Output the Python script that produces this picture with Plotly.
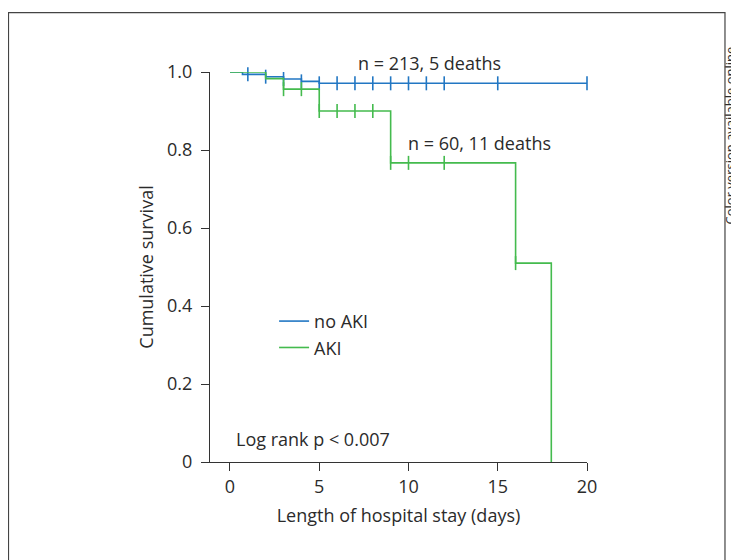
import plotly.graph_objects as go

# Kaplan-Meier step data
no_aki_time = [0, 0.7, 2, 3, 4, 5, 20]
no_aki_surv = [1.0, 0.994, 0.988, 0.982, 0.976, 0.971, 0.971]
no_aki_cens_time = [1, 2, 3, 4, 5, 6, 7, 8, 9, 10, 11, 12, 15, 20]
no_aki_cens_surv = [0.994, 0.988, 0.982, 0.976, 0.971, 0.971, 0.971, 0.971, 0.971,
                    0.971, 0.971, 0.971, 0.971, 0.971]

aki_time = [0, 2, 3, 5, 9, 16, 18]
aki_surv = [1.0, 0.983, 0.956, 0.90, 0.767, 0.51, 0.0]
aki_cens_time = [3, 4, 5, 6, 7, 8, 9, 10, 12, 16]
aki_cens_surv = [0.956, 0.956, 0.90, 0.90, 0.90, 0.90, 0.767, 0.767, 0.767, 0.51]

x_ticks = [0, 5, 10, 15, 20]
y_ticks = [0, 0.2, 0.4, 0.6, 0.8, 1.0]
y_tick_text = ["0", "0.2", "0.4", "0.6", "0.8", "1.0"]

BLUE = "#2277c3"
GREEN = "#44bb4e"
FONT = "Open Sans"
TXT = "#2b2b2b"
FS = 18

fig = go.Figure()
fig.add_trace(go.Scatter(x=no_aki_time, y=no_aki_surv, mode="lines", line_shape="hv",
                         line=dict(color=BLUE, width=1.6), name="no AKI", cliponaxis=False))
fig.add_trace(go.Scatter(x=no_aki_cens_time, y=no_aki_cens_surv, mode="markers",
                         marker=dict(symbol="line-ns", size=10, line=dict(color=BLUE, width=1.6)),
                         showlegend=False, cliponaxis=False))
fig.add_trace(go.Scatter(x=aki_time, y=aki_surv, mode="lines", line_shape="hv",
                         line=dict(color=GREEN, width=1.6), name="AKI", cliponaxis=False))
fig.add_trace(go.Scatter(x=aki_cens_time, y=aki_cens_surv, mode="markers",
                         marker=dict(symbol="line-ns", size=10, line=dict(color=GREEN, width=1.6)),
                         showlegend=False, cliponaxis=False))

axis_common = dict(showgrid=False, zeroline=False, showline=True, linecolor="#333",
                   linewidth=1.4, ticks="outside", ticklen=8, tickwidth=1.4, tickcolor="#333",
                   tickfont=dict(family=FONT, size=FS, color=TXT))

fig.update_layout(
    width=731, height=552,
    margin=dict(l=202, r=152, t=64, b=98),
    paper_bgcolor="white", plot_bgcolor="white",
    font=dict(family=FONT, size=FS, color=TXT),
    xaxis=dict(range=[-1.12, 20], tickvals=x_ticks, **axis_common,
               title=dict(text="Length of hospital stay (days)", standoff=12,
                          font=dict(family=FONT, size=FS, color=TXT))),
    yaxis=dict(range=[0, 1.0], tickvals=y_ticks, ticktext=y_tick_text, ticklabelstandoff=5,
               **axis_common,
               title=dict(text="Cumulative survival", standoff=8,
                          font=dict(family=FONT, size=FS, color=TXT))),
    legend=dict(x=0.17, y=0.408, xanchor="left", yanchor="top", bgcolor="rgba(0,0,0,0)",
                font=dict(family=FONT, size=FS, color=TXT), itemwidth=30),
    showlegend=True,
)

fig.add_annotation(x=11.2, y=1.023, xref="x", yref="paper", text="n = 213, 5 deaths",
                   xanchor="center", yanchor="middle",
                   showarrow=False, font=dict(size=FS, family=FONT, color=TXT))
fig.add_annotation(x=14.0, y=0.818, xref="x", yref="y", text="n = 60, 11 deaths",
                   xanchor="center", yanchor="middle",
                   showarrow=False, font=dict(size=FS, family=FONT, color=TXT))
fig.add_annotation(x=0.2, y=0.059, xref="x", yref="y", text="Log rank p < 0.007",
                   xanchor="left", yanchor="middle",
                   showarrow=False, font=dict(size=FS, family=FONT, color=TXT))
fig.add_annotation(x=1.38, y=0.838, xref="paper", yref="paper",
                   text="Color version available online", textangle=-90,
                   xanchor="center", yanchor="middle", borderpad=0,
                   showarrow=False, font=dict(size=13, family=FONT, color=TXT))

# outer frame
fig.add_shape(type="rect", xref="paper", yref="paper", x0=-0.5345, x1=1.366, y0=-0.4, y1=1.152,
              line=dict(color="#444", width=1.2), fillcolor="rgba(0,0,0,0)", layer="below")

fig.write_html("out.html")
